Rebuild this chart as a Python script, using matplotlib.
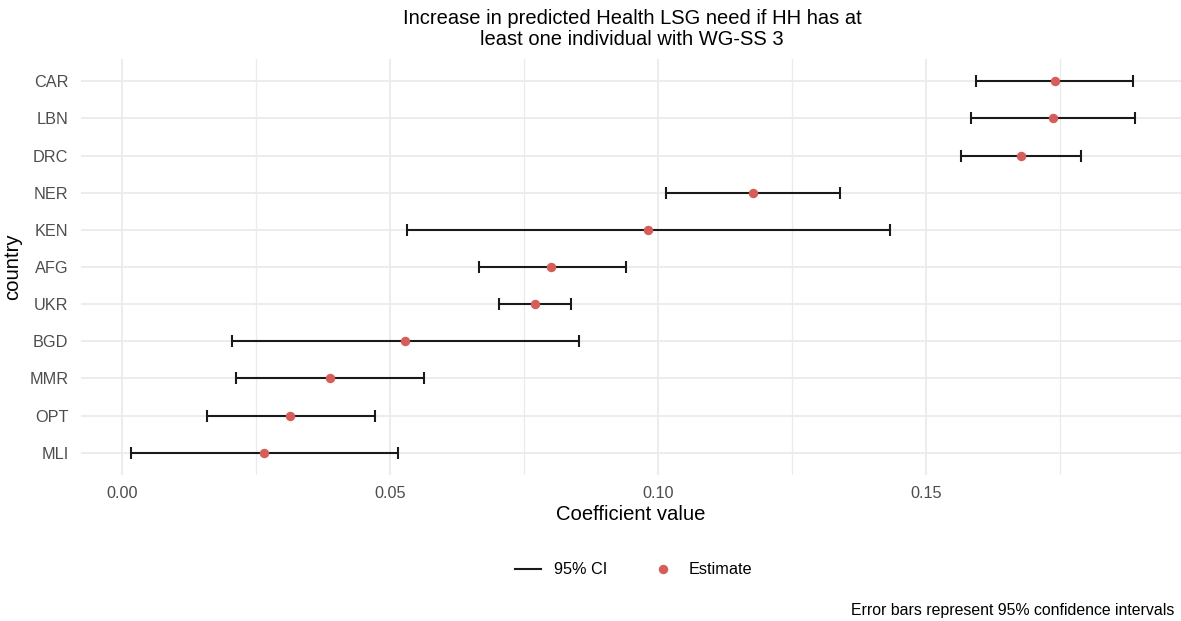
import matplotlib
matplotlib.use("Agg")
import matplotlib.pyplot as plt
from matplotlib.lines import Line2D
from matplotlib.ticker import MultipleLocator

plt.rcParams['font.family'] = ['Liberation Sans', 'DejaVu Sans']

# Countries ordered bottom to top
countries = ["MLI", "OPT", "MMR", "BGD", "UKR", "AFG", "KEN", "NER", "DRC", "LBN", "CAR"]
estimate = [0.0265, 0.0314, 0.0388, 0.0528, 0.0771, 0.0801, 0.0982, 0.1178, 0.1677, 0.1737, 0.1740]
ci_low = [0.0017, 0.0159, 0.0213, 0.0204, 0.0704, 0.0665, 0.0532, 0.1014, 0.1565, 0.1584, 0.1593]
ci_high = [0.0515, 0.0471, 0.0564, 0.0852, 0.0838, 0.0941, 0.1432, 0.1340, 0.1790, 0.1890, 0.1886]
x_ticks = [0.00, 0.05, 0.10, 0.15]
x_tick_labels = ["0.00", "0.05", "0.10", "0.15"]

W, H = 1181, 621
fig = plt.figure(figsize=(W / 100, H / 100), dpi=100)
fig.patch.set_facecolor("white")

left, right, top, bottom = 81, 1181, 59, 475
ax = fig.add_axes([left / W, 1 - bottom / H, (right - left) / W, (bottom - top) / H])

ypos = list(range(1, len(countries) + 1))
ax.set_xlim(-0.0077, 0.1976)
ax.set_ylim(0.4, len(countries) + 0.6)

# grid
ax.xaxis.set_major_locator(MultipleLocator(0.05))
ax.xaxis.set_minor_locator(MultipleLocator(0.025))
ax.grid(which="major", axis="both", color="#EBEBEB", lw=1.3, zorder=0)
ax.grid(which="minor", axis="x", color="#EBEBEB", lw=0.9, zorder=0)
ax.set_axisbelow(True)

lo_err = [e - l for e, l in zip(estimate, ci_low)]
hi_err = [h - e for e, h in zip(estimate, ci_high)]
ax.errorbar(estimate, ypos, xerr=[lo_err, hi_err], fmt="none", ecolor="#1a1a1a",
            elinewidth=1.5, capsize=4.2, capthick=1.5, zorder=2)
ax.plot(estimate, ypos, "o", color="#D55E5A", ms=6.8, mec="none", zorder=3)

ax.set_xticks(x_ticks)
ax.set_xticklabels(x_tick_labels)
ax.set_yticks(ypos)
ax.set_yticklabels(countries)
ax.tick_params(which="both", length=0, labelsize=11.7, labelcolor="#4D4D4D")
ax.tick_params(axis="x", pad=8)
ax.tick_params(axis="y", pad=9)
for s in ax.spines.values():
    s.set_visible(False)

ax.set_xlabel("Coefficient value", fontsize=14.6, labelpad=3)
ax.set_ylabel("country", fontsize=14.6, labelpad=5)

fig.text(632 / W, 1 - 29 / H, "Increase in predicted Health LSG need if HH has at\nleast one individual with WG-SS 3",
         ha="center", va="center", fontsize=14.5, linespacing=1.15)

handles = [Line2D([], [], color="#1a1a1a", lw=1.5),
           Line2D([], [], marker="o", ls="none", color="#D55E5A", ms=6.8, mec="none")]
fig.legend(handles, ["95% CI", "Estimate"], loc="center", bbox_to_anchor=(634 / W, 1 - 570 / H),
           ncol=2, frameon=False, fontsize=11.7, handlelength=1.6, columnspacing=2.6, handletextpad=0.8)

fig.text(1174 / W, 1 - 611 / H, "Error bars represent 95% confidence intervals",
         ha="right", va="center", fontsize=11.4)

fig.savefig("out.png", dpi=100, facecolor="white")
